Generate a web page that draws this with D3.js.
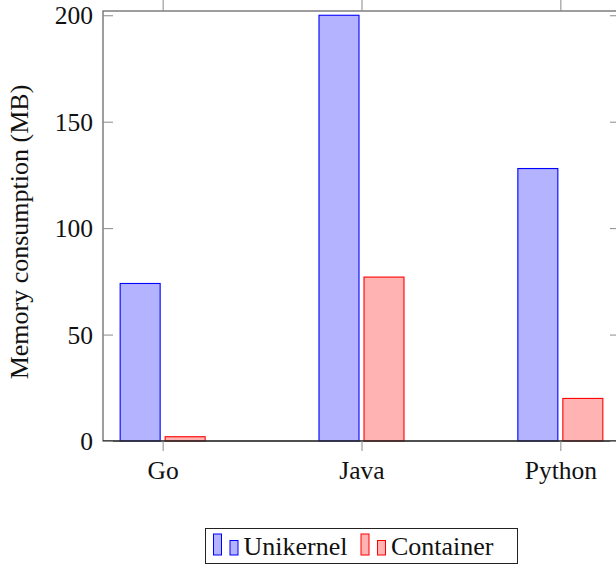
<!DOCTYPE html>
<html>
<head>
<meta charset="utf-8">
<script src="https://cdn.jsdelivr.net/npm/d3@7/dist/d3.min.js"></script>
<style>
  html, body { margin: 0; padding: 0; background: #fff; }
  svg { display: block; }
  svg text { font-family: "Liberation Serif", "Times New Roman", serif !important; fill: #111; }
</style>
</head>
<body>
<svg id="chart" width="616" height="573"></svg>
<script>
// Memory use per language runtime
const categories = ["Go", "Java", "Python"];
const unikernel = [74, 200, 128];
const container = [2, 77, 20];
const yTicks = [0, 50, 100, 150, 200];
const seriesNames = ["Unikernel", "Container"];

const plot = { left: 103, right: 620, top: 11, bottom: 441 };

const svg = d3.select("#chart");

const x = d3.scalePoint()
  .domain(categories)
  .range([plot.left, plot.right])
  .padding(0.3);

const y = d3.scaleLinear()
  .domain([0, 202])
  .range([plot.bottom, plot.top]);

const barW = 40;
const styles = [
  { fill: "#b3b3ff", stroke: "#0000ff", off: -22.5 },
  { fill: "#ffb3b3", stroke: "#ff0000", off: 22.5 }
];
const series = [unikernel, container];

// bars
series.forEach((vals, si) => {
  const st = styles[si];
  svg.append("g")
    .selectAll("rect")
    .data(categories.map((c, i) => ({ c, v: vals[i] })))
    .join("rect")
    .attr("x", d => x(d.c) + st.off - barW / 2)
    .attr("y", d => y(d.v))
    .attr("width", barW)
    .attr("height", d => y(0) - y(d.v))
    .attr("fill", st.fill)
    .attr("stroke", st.stroke)
    .attr("stroke-width", 1.1);
});

// frame
svg.append("rect")
  .attr("x", plot.left).attr("y", plot.top)
  .attr("width", plot.right - plot.left)
  .attr("height", plot.bottom - plot.top)
  .attr("fill", "none")
  .attr("stroke", "#6a6a6a")
  .attr("stroke-width", 1.3);
svg.append("line")
  .attr("x1", plot.left).attr("x2", plot.right)
  .attr("y1", y(0)).attr("y2", y(0))
  .attr("stroke", "#000").attr("stroke-width", 1.2);

// y axis: inward ticks on both sides
const yAxisL = d3.axisLeft(y).tickValues(yTicks).tickSize(-10).tickPadding(10);
const gyl = svg.append("g").attr("transform", `translate(${plot.left},0)`).call(yAxisL);
gyl.attr("font-family", null);
gyl.select(".domain").remove();
gyl.selectAll(".tick line").attr("stroke", "#8a8a8a");
gyl.selectAll(".tick text")
  .attr("font-size", 25.5)
  .attr("fill", "#111")
  .attr("dy", "0.34em");

const yAxisR = d3.axisRight(y).tickValues(yTicks).tickSize(-10).tickFormat("");
const gyr = svg.append("g").attr("transform", `translate(${plot.right},0)`).call(yAxisR);
gyr.select(".domain").remove();
gyr.selectAll(".tick line").attr("stroke", "#8a8a8a");

// x axis: outward ticks top and bottom
const xAxisB = d3.axisBottom(x).tickSize(10).tickPadding(10);
const gxb = svg.append("g").attr("transform", `translate(0,${plot.bottom})`).call(xAxisB);
gxb.attr("font-family", null);
gxb.select(".domain").remove();
gxb.selectAll(".tick line").attr("stroke", "#8a8a8a");
gxb.selectAll(".tick text")
  .attr("font-size", 25.5)
  .attr("fill", "#111");

const xAxisT = d3.axisTop(x).tickSize(11).tickFormat("");
const gxt = svg.append("g").attr("transform", `translate(0,${plot.top})`).call(xAxisT);
gxt.select(".domain").remove();
gxt.selectAll(".tick line").attr("stroke", "#8a8a8a");

// y axis title
svg.append("text")
  .attr("transform", `translate(28,${(plot.top + plot.bottom) / 2 + 6}) rotate(-90)`)
  .attr("text-anchor", "middle")
  .attr("font-size", 26)
  .text("Memory consumption (MB)");

// legend
const lg = svg.append("g");
lg.append("rect")
  .attr("x", 205.5).attr("y", 528.5)
  .attr("width", 312).attr("height", 35)
  .attr("fill", "#fff").attr("stroke", "#222").attr("stroke-width", 1);

const legendX = [213.5, 361];
seriesNames.forEach((name, i) => {
  const st = styles[i];
  const x0 = legendX[i];
  lg.append("rect").attr("x", x0).attr("y", 534).attr("width", 8).attr("height", 21)
    .attr("fill", st.fill).attr("stroke", st.stroke).attr("stroke-width", 1);
  lg.append("rect").attr("x", x0 + 16.5).attr("y", 540.5).attr("width", 8).attr("height", 14.5)
    .attr("fill", st.fill).attr("stroke", st.stroke).attr("stroke-width", 1);
  lg.append("text")
    .attr("x", x0 + 30).attr("y", 555)
    .attr("font-size", 26)
    .text(name);
});
</script>
</body>
</html>
